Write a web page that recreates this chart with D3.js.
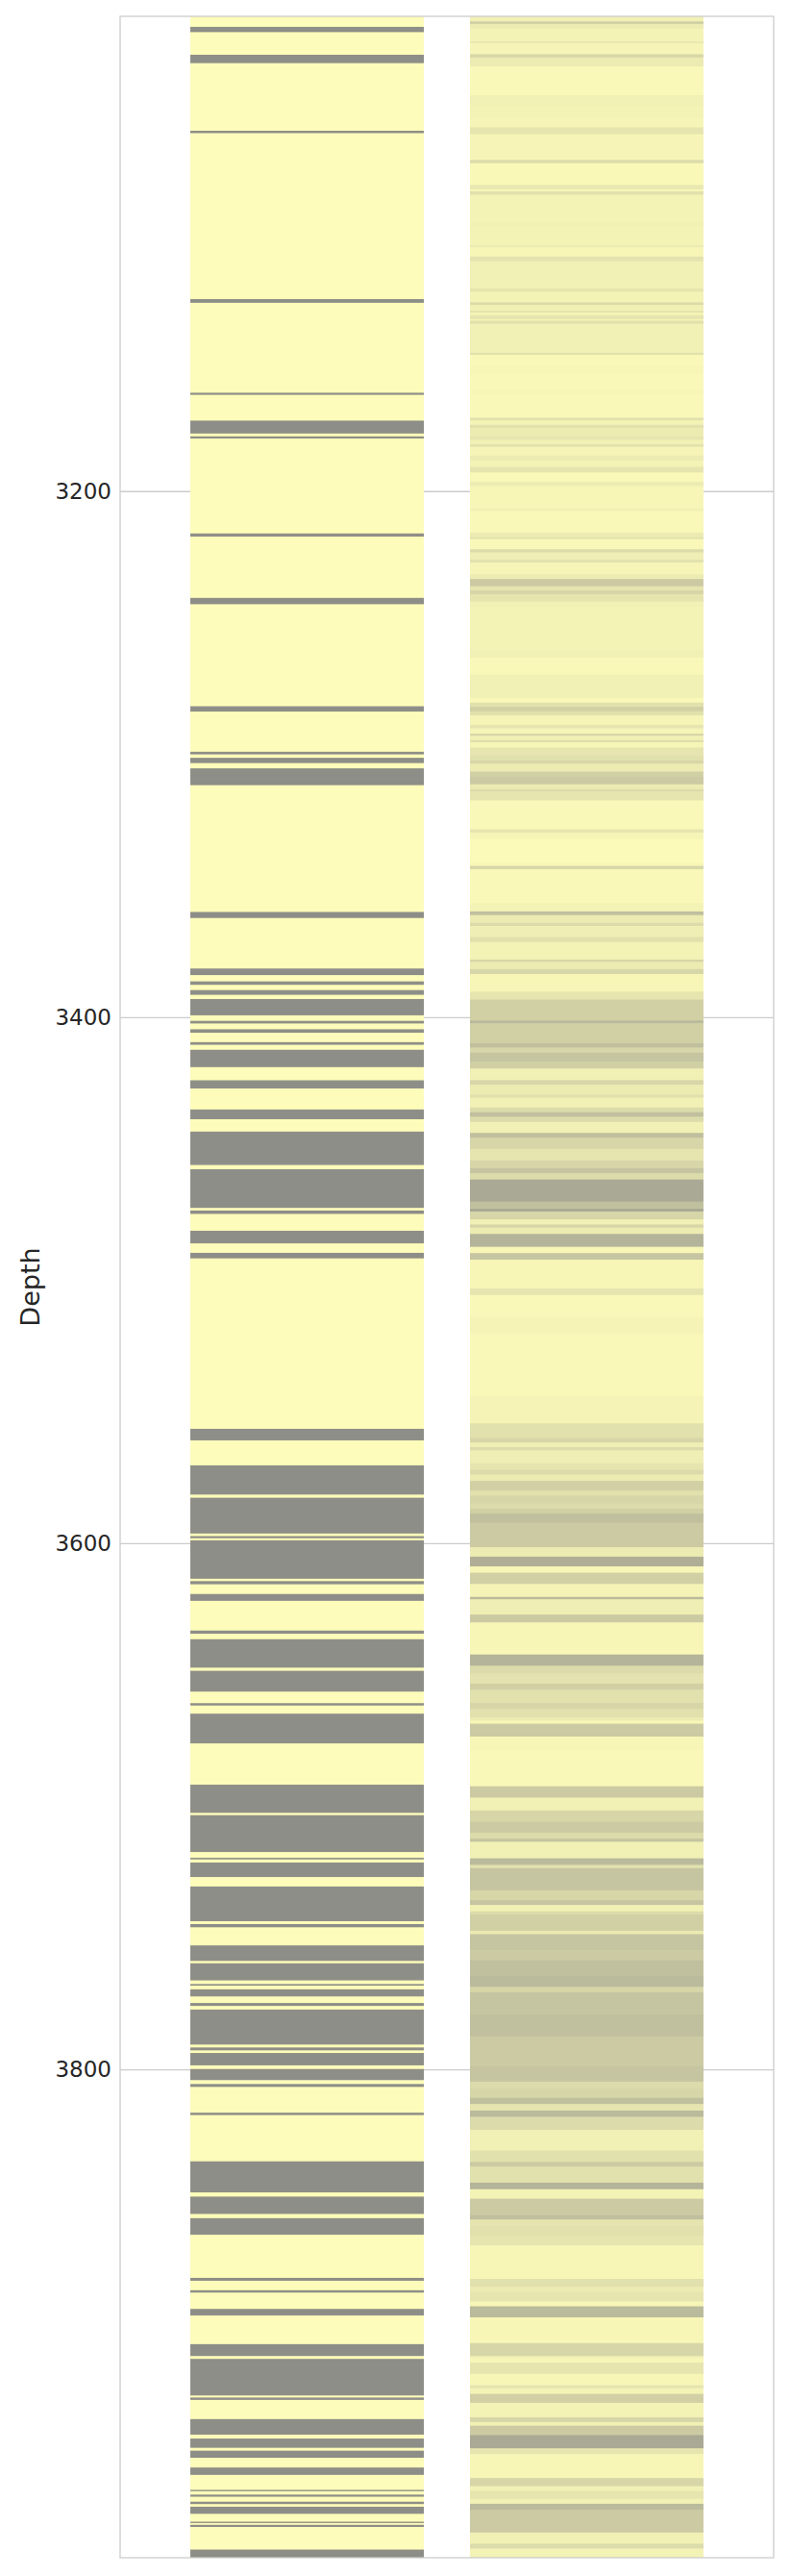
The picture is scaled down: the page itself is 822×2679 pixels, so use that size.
<!DOCTYPE html>
<html><head><meta charset="utf-8">
<script src="https://cdn.jsdelivr.net/npm/d3@7"></script>
<style>body{margin:0;background:#fff} svg{display:block}</style>
</head><body><svg id="chart" width="822" height="2679"></svg>
<script>
// ---------- data ----------
const columns = ["facies", "probability"];
const yTicks = [3200, 3400, 3600, 3800];
const depthDomain = [3019.5, 3985.7];
const yLabel = "Depth";

// left track: intervals of the gray class (depth top / base)
const grayTop = [3023.5, 3034.1, 3063.0, 3127.0, 3162.6, 3173.2, 3179.2, 3216.1, 3240.6,
  3281.8, 3299.1, 3301.4, 3305.4, 3360.0, 3381.5, 3386.4, 3389.7, 3393.1, 3401.4, 3404.6,
  3409.5, 3412.4, 3424.0, 3435.1, 3443.5, 3457.8, 3473.5, 3481.2, 3489.6, 3556.5, 3570.4,
  3582.7, 3597.3, 3598.9, 3614.4, 3619.3, 3633.2, 3636.5, 3648.5, 3660.8, 3664.8, 3691.8,
  3703.4, 3719.6, 3721.4, 3730.5, 3744.8, 3752.9, 3759.7, 3767.6, 3769.6, 3774.8, 3777.3,
  3791.7, 3793.8, 3799.9, 3805.6, 3816.5, 3835.0, 3848.4, 3856.6, 3879.3, 3884.0, 3891.1,
  3904.5, 3910.1, 3924.8, 3933.0, 3940.4, 3945.0, 3951.4, 3959.9, 3961.7, 3964.4, 3966.3,
  3972.0, 3973.2, 3982.6];
const grayBase = [3025.5, 3037.3, 3063.9, 3128.4, 3163.4, 3178.1, 3180.0, 3217.3, 3243.0,
  3283.8, 3300.1, 3303.4, 3311.8, 3362.3, 3384.0, 3387.7, 3391.5, 3399.3, 3402.4, 3405.9,
  3410.5, 3419.0, 3427.1, 3438.8, 3456.2, 3472.5, 3474.8, 3486.0, 3491.7, 3560.9, 3581.5,
  3596.3, 3598.1, 3613.5, 3615.6, 3621.9, 3634.4, 3647.3, 3656.4, 3661.7, 3676.1, 3702.5,
  3717.4, 3720.2, 3726.9, 3743.7, 3746.0, 3758.8, 3766.2, 3768.2, 3772.3, 3775.9, 3790.6,
  3792.8, 3798.5, 3804.1, 3806.7, 3817.4, 3846.8, 3855.0, 3862.9, 3880.4, 3884.9, 3893.6,
  3909.0, 3924.0, 3925.7, 3938.9, 3943.9, 3947.7, 3954.2, 3960.4, 3962.5, 3965.3, 3969.0,
  3972.5, 3974.0, 3985.7];

// right track: probability of the gray class, piecewise from each top to the next
const probTop = [3019.5, 3021.4, 3022.4, 3024.1, 3029.0, 3029.7, 3033.9, 3035.1, 3038.5, 3049.5,
  3053.4, 3058.2, 3061.7, 3064.3, 3074.1, 3075.3, 3083.6, 3085.3, 3086.0, 3087.3,
  3098.0, 3099.2, 3106.5, 3107.3, 3110.8, 3112.6, 3123.0, 3124.2, 3128.2, 3129.2,
  3131.5, 3132.1, 3133.1, 3134.6, 3135.2, 3136.4, 3147.4, 3148.2, 3152.9, 3155.3,
  3161.4, 3163.2, 3172.1, 3173.1, 3174.8, 3176.0,
  3179.2, 3180.4, 3182.2, 3183.1, 3186.5, 3188.3, 3190.8, 3192.9, 3196.5, 3198.1,
  3206.6, 3207.5, 3215.8, 3217.6, 3218.2, 3222.1, 3223.3, 3226.1, 3227.1, 3231.6,
  3233.4, 3236.2, 3237.7, 3239.2, 3242.0, 3243.8,
  3260.3, 3263.3, 3269.8, 3278.6, 3280.4, 3282.0, 3283.7, 3285.3, 3288.9, 3290.2,
  3292.2, 3293.0, 3294.7, 3295.4, 3297.5, 3300.5, 3302.4, 3303.6, 3306.6, 3308.4,
  3311.5, 3313.3, 3314.2, 3317.6, 3328.6, 3329.8, 3332.2,
  3341.5, 3342.5, 3343.7, 3356.7, 3359.8, 3361.2, 3364.1, 3365.3, 3369.5, 3371.4,
  3378.1, 3379.0, 3381.7, 3383.6, 3390.3, 3393.3, 3401.2, 3402.4, 3409.8, 3411.6,
  3413.4, 3417.1, 3419.5,
  3422.7, 3423.9, 3425.7, 3429.4, 3430.6, 3434.3, 3436.1, 3437.9, 3439.8, 3444.0,
  3445.9, 3450.1, 3454.4, 3457.4, 3459.3, 3461.7, 3470.2, 3472.7, 3473.9, 3476.9,
  3478.8, 3480.0, 3482.4, 3487.3, 3489.7, 3492.2, 3503.1,
  3505.6, 3514.2, 3520.3, 3544.0, 3554.4, 3559.9, 3561.7, 3563.5, 3564.7, 3569.6,
  3572.1, 3573.9, 3576.3, 3580.0, 3581.8,
  3585.0, 3586.8, 3588.7, 3592.3, 3601.5, 3605.1, 3608.8, 3611.2, 3615.5, 3620.4,
  3621.3, 3627.1, 3630.1, 3642.3, 3646.6, 3649.6, 3653.3, 3655.7, 3660.6, 3663.0,
  3666.2, 3667.4, 3668.6, 3673.5, 3679.0, 3692.4, 3696.7, 3701.6, 3705.8, 3710.1,
  3712.3, 3713.5, 3719.8, 3722.3, 3723.5, 3732.0, 3735.7, 3737.5, 3740.0, 3741.2,
  3747.4, 3748.6, 3754.7, 3758.4, 3764.5, 3768.7, 3770.6, 3779.1, 3787.6, 3798.6,
  3804.7, 3807.1, 3810.8, 3813.2, 3815.7, 3818.1, 3823.0,
  3828.5, 3830.9, 3835.2, 3837.0, 3843.1, 3845.6, 3849.2, 3855.3, 3857.1, 3859.6,
  3863.2, 3866.9, 3879.7, 3882.7, 3884.6, 3888.2, 3890.1, 3894.3, 3904.1, 3909.0,
  3909.7, 3911.5, 3915.8, 3920.1, 3921.3, 3923.4, 3926.8, 3932.3, 3934.1, 3935.5,
  3939.0, 3944.1, 3946.3, 3955.4, 3958.5, 3960.3, 3963.3, 3965.2, 3967.6, 3976.1,
  3980.4, 3982.2];
const probValue = [0.1, 0.4, 0.15, 0.08, 0.18, 0.06, 0.35, 0.15, 0.03, 0.1,
  0.08, 0.06, 0.2, 0.06, 0.3, 0.04, 0.18, 0.03, 0.25, 0.08,
  0.1, 0.08, 0.15, 0.05, 0.22, 0.1, 0.2, 0.08, 0.3, 0.1,
  0.25, 0.06, 0.2, 0.06, 0.25, 0.1, 0.25, 0.03, 0.05, 0.03,
  0.05, 0.03, 0.25, 0.08, 0.25, 0.15,
  0.2, 0.1, 0.25, 0.06, 0.15, 0.08, 0.2, 0.03, 0.15, 0.05,
  0.1, 0.03, 0.15, 0.25, 0.03, 0.3, 0.12, 0.25, 0.06, 0.15,
  0.45, 0.2, 0.35, 0.2, 0.1, 0.08,
  0.1, 0.03, 0.1, 0.03, 0.25, 0.4, 0.25, 0.06, 0.2, 0.06,
  0.35, 0.1, 0.3, 0.06, 0.2, 0.25, 0.35, 0.15, 0.4, 0.45,
  0.15, 0.3, 0.2, 0.03, 0.2, 0.06, 0.02,
  0.05, 0.35, 0.03, 0.08, 0.55, 0.15, 0.3, 0.12, 0.25, 0.08,
  0.35, 0.15, 0.35, 0.05, 0.2, 0.4, 0.6, 0.4, 0.55, 0.35,
  0.5, 0.4, 0.1,
  0.1, 0.35, 0.15, 0.25, 0.1, 0.3, 0.55, 0.3, 0.1, 0.55,
  0.35, 0.2, 0.35, 0.5, 0.3, 0.75, 0.55, 0.75, 0.35, 0.1,
  0.35, 0.15, 0.65, 0.05, 0.5, 0.05, 0.2,
  0.03, 0.07, 0.03, 0.07, 0.25, 0.35, 0.12, 0.3, 0.12, 0.2,
  0.3, 0.15, 0.4, 0.25, 0.35,
  0.3, 0.4, 0.55, 0.45, 0.15, 0.7, 0.05, 0.4, 0.07, 0.6,
  0.12, 0.45, 0.05, 0.65, 0.3, 0.22, 0.4, 0.25, 0.35, 0.25,
  0.15, 0.05, 0.45, 0.05, 0.03, 0.45, 0.1, 0.35, 0.45, 0.3,
  0.5, 0.1, 0.6, 0.25, 0.5, 0.35, 0.5, 0.1, 0.3, 0.4,
  0.15, 0.5, 0.45, 0.55, 0.6, 0.35, 0.5, 0.55, 0.45, 0.5,
  0.3, 0.35, 0.55, 0.2, 0.6, 0.3, 0.1,
  0.1, 0.25, 0.45, 0.25, 0.65, 0.08, 0.45, 0.55, 0.2, 0.25,
  0.2, 0.05, 0.25, 0.15, 0.2, 0.05, 0.6, 0.05, 0.35, 0.1,
  0.05, 0.2, 0.05, 0.2, 0.08, 0.4, 0.08, 0.35, 0.1, 0.45,
  0.75, 0.2, 0.05, 0.35, 0.1, 0.2, 0.1, 0.6, 0.45, 0.1,
  0.3, 0.08];

// ---------- drawing ----------
const W = 822, H = 2679;
const plot = {left: 125, right: 805, top: 17, bottom: 2660};
const yellow = "#fdfcba", gray = "#8e8e88", frameColor = "#cccccc", textColor = "#262626";

const svg = d3.select("#chart");
svg.append("rect").attr("width", W).attr("height", H).attr("fill", "#fff");

const y = d3.scaleLinear().domain(depthDomain).range([plot.top, plot.bottom]);
const x = d3.scaleBand().domain(columns).range([plot.left, plot.right])
  .paddingInner(0.165).paddingOuter(0.251);

// grid + tick labels
const yAxis = d3.axisLeft(y).tickValues(yTicks).tickFormat(d3.format("d"))
  .tickSize(-(plot.right - plot.left)).tickPadding(9);
const gAxis = svg.append("g").attr("transform", `translate(${plot.left},0)`).call(yAxis);
gAxis.select(".domain").remove();
gAxis.selectAll(".tick line").attr("stroke", frameColor).attr("stroke-width", 1.3);
gAxis.selectAll(".tick text").attr("fill", textColor)
  .style("font-family", "DejaVu Sans, sans-serif").style("font-size", "23px");

// left track
const gLeft = svg.append("g");
gLeft.append("rect").attr("x", x("facies")).attr("width", x.bandwidth())
  .attr("y", y(depthDomain[0])).attr("height", y(depthDomain[1]) - y(depthDomain[0]))
  .attr("fill", yellow);
gLeft.selectAll("rect.band").data(d3.range(grayTop.length)).join("rect").attr("class", "band")
  .attr("x", x("facies")).attr("width", x.bandwidth())
  .attr("y", i => y(grayTop[i])).attr("height", i => y(grayBase[i]) - y(grayTop[i]))
  .attr("fill", gray);

// right track
const gRight = svg.append("g");
gRight.append("rect").attr("x", x("probability")).attr("width", x.bandwidth())
  .attr("y", y(depthDomain[0])).attr("height", y(depthDomain[1]) - y(depthDomain[0]))
  .attr("fill", yellow);
gRight.selectAll("rect.seg").data(d3.range(probTop.length)).join("rect").attr("class", "seg")
  .attr("x", x("probability")).attr("width", x.bandwidth())
  .attr("y", i => y(probTop[i]))
  .attr("height", i => y(i + 1 < probTop.length ? probTop[i + 1] : depthDomain[1]) - y(probTop[i]))
  .attr("fill", gray).attr("fill-opacity", i => probValue[i]);

// frame
svg.append("rect").attr("x", plot.left).attr("y", plot.top)
  .attr("width", plot.right - plot.left).attr("height", plot.bottom - plot.top)
  .attr("fill", "none").attr("stroke", frameColor).attr("stroke-width", 1.3);

// y label
svg.append("text").attr("transform", `translate(31,${(plot.top + plot.bottom) / 2}) rotate(-90)`)
  .attr("text-anchor", "middle").attr("dominant-baseline", "central")
  .attr("fill", textColor).style("font-family", "DejaVu Sans, sans-serif").style("font-size", "27px")
  .text(yLabel);
</script></body></html>
